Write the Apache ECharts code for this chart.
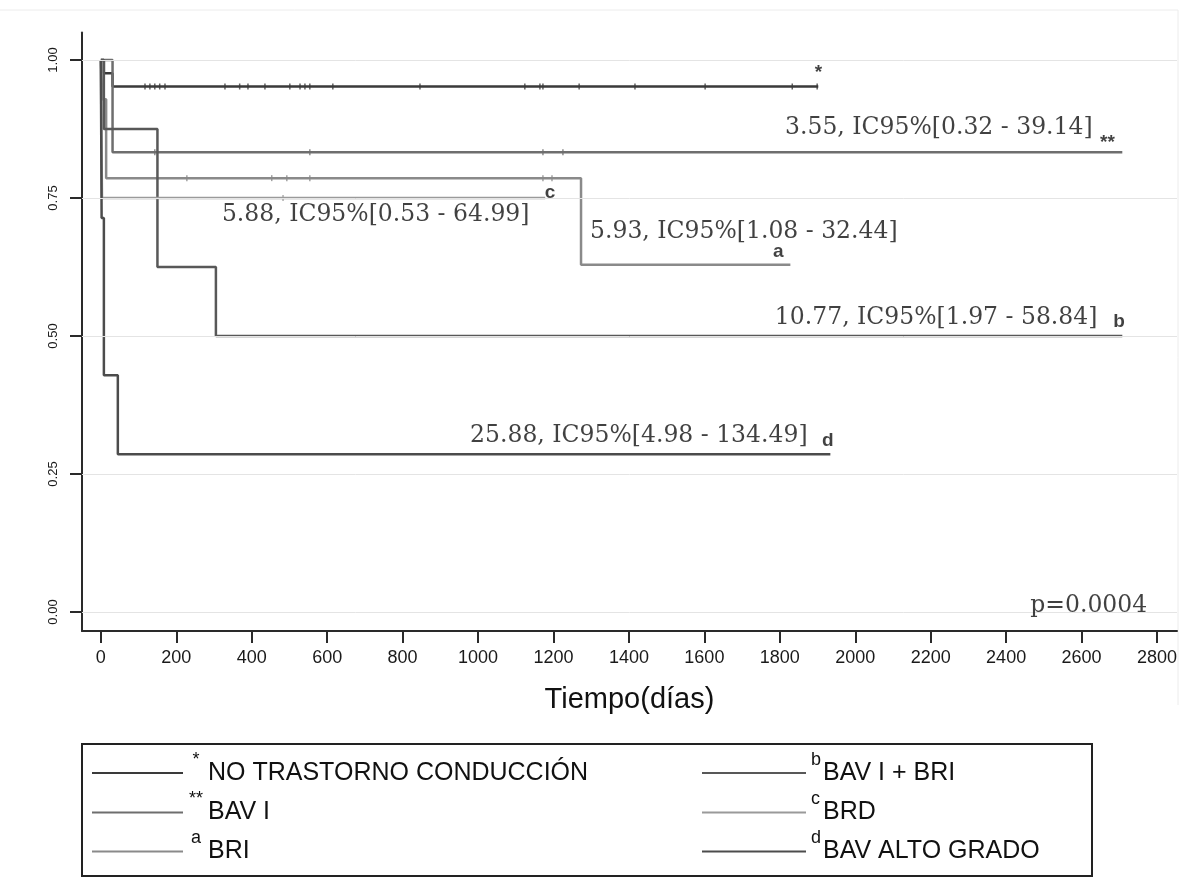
<!DOCTYPE html>
<html><head><meta charset="utf-8">
<script src="https://cdn.jsdelivr.net/npm/echarts@6/dist/echarts.min.js"></script>
<style>html,body{margin:0;padding:0;background:#fff;} #c{width:1196px;height:878px;}</style>
</head><body><div id="c"></div>
<script>
// ---------- data ----------
const xTicks = [0,200,400,600,800,1000,1200,1400,1600,1800,2000,2200,2400,2600,2800];
const yTicks = [0,0.25,0.5,0.75,1];
const groupNames = ['NO TRASTORNO CONDUCCIÓN','BAV I','BRI','BAV I + BRI','BRD','BAV ALTO GRADO'];
const groupMarks = ['*','**','a','b','c','d'];

// Kaplan-Meier step points (time in days, survival)
const timesNoTrast = [0, 8, 31, 1902];
const survNoTrast  = [1, 0.976, 0.952, 0.952];
const timesBAV1 = [0, 31, 2708];
const survBAV1  = [1, 0.833, 0.833];
const timesBRI = [0, 4, 14, 1273, 1828];
const survBRI  = [1, 0.929, 0.786, 0.629, 0.629];
const timesBAV1BRI = [0, 8, 150, 305, 2708];
const survBAV1BRI  = [1, 0.875, 0.625, 0.5, 0.5];
const timesBRD = [0, 3, 1178];
const survBRD  = [1, 0.75, 0.75];
const timesAltoGrado = [0, 2, 8, 45, 1934];
const survAltoGrado  = [1, 0.714, 0.429, 0.286, 0.286];

// censored observations (time)
const censNoTrast = [117,130,143,156,170,329,368,390,435,501,528,541,554,615,846,1124,1164,1172,1268,1416,1602,1833,1899];
const censBAV1 = [143,554,1172,1225];
const censBRI = [228,453,493,554,1172,1196];
const censBRD = [483];

// hazard-ratio annotations
const annotTexts = ['3.55, IC95%[0.32 - 39.14]','5.88, IC95%[0.53 - 64.99]','5.93, IC95%[1.08 - 32.44]','10.77, IC95%[1.97 - 58.84]','25.88, IC95%[4.98 - 134.49]','p=0.0004'];
const annotX = [1814, 321, 1297, 1787, 979, 2464];
const annotY = [0.877, 0.719, 0.688, 0.533, 0.319, 0.011];
// curve-end marks
const markX = [1893, 2649, 1782, 2684, 1177, 1912];
const markY = [0.976, 0.85, 0.652, 0.525, 0.759, 0.31];

// ---------- build ----------
const colors = ['#3a3a3a','#6e6e6e','#8a8a8a','#585858','#9a9a9a','#4c4c4c'];
const times = [timesNoTrast,timesBAV1,timesBRI,timesBAV1BRI,timesBRD,timesAltoGrado];
const survs = [survNoTrast,survBAV1,survBRI,survBAV1BRI,survBRD,survAltoGrado];
const cens = [censNoTrast,censBAV1,censBRI,[],censBRD,[]];

function survAt(g, t){ let s = survs[g][0]; for(let i=0;i<times[g].length;i++){ if(times[g][i]<=t) s = survs[g][i]; } return s; }

const series = [];
series.push({
  type:'line', name:'grid', data:[], silent:true, z:1,
  markLine:{silent:true, symbol:'none', label:{show:false}, animation:false,
    lineStyle:{color:'#e4e4e4', width:1, type:'solid'},
    data: yTicks.map(v=>({yAxis:v}))}
});
groupNames.forEach((n,g)=>{
  series.push({
    type:'line', name:n, step:'end', showSymbol:false, symbol:'none', z:3,
    color: colors[g],
    lineStyle:{color:colors[g], width:2.5},
    data: times[g].map((t,i)=>[t, survs[g][i]])
  });
  if (cens[g].length) series.push({
    type:'scatter', name:'cens'+g, symbol:'rect', symbolSize:[1.5,6], z:4,
    itemStyle:{color:colors[g]},
    data: cens[g].map(t=>[t, survAt(g,t)])
  });
});
series.push({
  type:'scatter', name:'annot', symbolSize:0.1, z:5, silent:true,
  itemStyle:{color:'transparent'},
  label:{show:true, position:[0,0], align:'left', verticalAlign:'middle',
    fontFamily:'DejaVu Serif', fontSize:23.5, color:'#111',
    formatter:p=>p.data.t},
  data: annotTexts.map((t,i)=>({value:[annotX[i], annotY[i]], t:t}))
});
series.push({
  type:'scatter', name:'marks', symbolSize:0.1, z:5, silent:true,
  itemStyle:{color:'transparent'},
  label:{show:true, position:[0,0], align:'left', verticalAlign:'middle',
    fontFamily:'Liberation Sans', fontWeight:'bold', fontSize:19, color:'#111',
    formatter:p=>p.data.t},
  data: groupMarks.map((t,i)=>({value:[markX[i], markY[i]], t:t}))
});

// one legend per entry: two columns of three rows
const rowCenters = [773, 812.5, 851.5];
const legends = groupNames.map((n,i)=>{
  const col = i < 3 ? 0 : 1, row = i % 3;
  return {
    orient:'vertical', left: col ? 702 : 92, top: rowCenters[row] - 22,
    itemWidth: col ? 104 : 91, itemHeight:2, icon:'rect', selectedMode:false, padding:0,
    data:[n],
    formatter: name => '{s|'+groupMarks[i]+'}{t|'+name+'}',
    textStyle:{ rich:{
      s:{fontSize:18, width: col ? 10 : 16, align: col ? 'left' : 'right', verticalAlign:'top', lineHeight:14,
         fontFamily:'Liberation Sans', color:'#111'},
      t:{fontSize:25, lineHeight:44, padding:[0,0,0, col ? 2 : 4], fontFamily:'Liberation Sans', color:'#111'}
    }}
  };
});

const option = {
  animation:false,
  backgroundColor:'#fff',
  grid:{left:82, right:19, top:32.4, bottom:247, containLabel:false},
  xAxis:{
    type:'value', min:-50, max:2853,
    axisLine:{show:true, onZero:false, lineStyle:{color:'#2a2a2a', width:2}},
    axisTick:{show:true, customValues:xTicks, length:12, lineStyle:{color:'#2a2a2a', width:2}},
    axisLabel:{customValues:xTicks, fontFamily:'Liberation Sans', fontSize:18, color:'#1a1a1a', margin:18,
      formatter:v=>String(v)},
    splitLine:{show:false},
    name:'Tiempo(días)', nameLocation:'middle', nameGap:54,
    nameTextStyle:{fontFamily:'Liberation Sans', fontSize:29, color:'#111'}
  },
  yAxis:{
    type:'value', min:-0.0344, max:1.05,
    axisLine:{show:true, onZero:false, lineStyle:{color:'#2a2a2a', width:2}},
    axisTick:{show:true, customValues:yTicks, length:12, lineStyle:{color:'#2a2a2a', width:2}},
    axisLabel:{customValues:yTicks, rotate:90, fontFamily:'Liberation Sans', fontSize:13, color:'#1a1a1a', margin:22,
      formatter:v=>v.toFixed(2)},
    splitLine:{show:false}
  },
  legend: legends,
  graphic:[
    {type:'rect', shape:{x:82, y:744, width:1010, height:132}, style:{fill:'none', stroke:'#222', lineWidth:2}, silent:true},
    {type:'line', shape:{x1:0, y1:10, x2:1178, y2:10}, style:{stroke:'#ececec', lineWidth:1}, silent:true},
    {type:'line', shape:{x1:1178, y1:10, x2:1178, y2:705}, style:{stroke:'#ececec', lineWidth:1}, silent:true}
  ],
  series: series
};
echarts.init(document.getElementById('c'), null, {renderer:'canvas'}).setOption(option);
</script></body></html>
